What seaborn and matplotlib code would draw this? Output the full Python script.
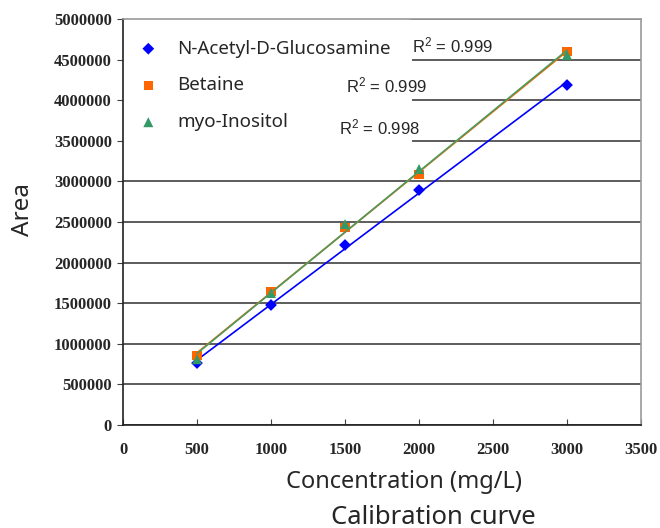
import numpy as np
import pandas as pd
import matplotlib
matplotlib.use("Agg")
import matplotlib.pyplot as plt
import seaborn as sns

conc = [500, 1000, 1500, 2000, 3000]
nag = [763000, 1478000, 2217000, 2894000, 4187000]
betaine = [850000, 1650000, 2438000, 3079000, 4594000]
inositol = [810000, 1626000, 2475000, 3153000, 4557000]
names = ["N-Acetyl-D-Glucosamine", "Betaine", "myo-Inositol"]
r2_labels = ["R$^{2}$ = 0.999", "R$^{2}$ = 0.999", "R$^{2}$ = 0.998"]
xticks = [0, 500, 1000, 1500, 2000, 2500, 3000, 3500]
yticks = list(range(0, 5000001, 500000))

sns.set_style("white")
plt.rcParams['font.family'] = ['Noto Sans', 'DejaVu Sans']
plt.rcParams['mathtext.fontset'] = 'custom'
plt.rcParams['mathtext.rm'] = 'Liberation Sans'
plt.rcParams['mathtext.it'] = 'Liberation Sans:italic'
plt.rcParams['mathtext.bf'] = 'Liberation Sans:bold'

fig = plt.figure(figsize=(6.6, 5.28), dpi=100)
ax = fig.add_axes([123/660, 1-425/528, (641-123)/660, (425-19)/528])

series = [nag, betaine, inositol]
mcolors = ["#0000FF", "#FF6600", "#339966"]
lcolors = ["#0000FF", "#FF6600", "#4C9A5C"]
markers = ["D", "s", "^"]
msizes = [36, 42, 52]

df = pd.DataFrame({"conc": conc * 3,
                   "area": nag + betaine + inositol,
                   "name": sum([[n] * len(conc) for n in names], [])})

for i, (name, vals) in enumerate(zip(names, series)):
    sub = df[df["name"] == name]
    sns.scatterplot(data=sub, x="conc", y="area", marker=markers[i], color=mcolors[i],
                    s=msizes[i], edgecolor="none", ax=ax, label=name, zorder=3)
    k, b = np.polyfit(conc, vals, 1)
    xs = np.array([conc[0], conc[-1]])
    sns.lineplot(x=xs, y=k * xs + b, color=lcolors[i], lw=1.2, ax=ax, zorder=4 if i == 2 else 2)

ax.set_xlim(0, 3500)
ax.set_ylim(0, 5000000)
ax.set_xticks(xticks)
ax.set_yticks(yticks)
ax.set_xticklabels([str(t) for t in xticks])
ax.set_yticklabels([str(t) for t in yticks])
for lab in ax.get_xticklabels() + ax.get_yticklabels():
    lab.set_fontfamily("Liberation Serif")
    lab.set_fontweight("bold")
    lab.set_fontsize(12)
ax.tick_params(axis="x", direction="in", length=4, width=0.8, color="#404040", pad=12, bottom=True)
ax.tick_params(axis="y", direction="out", length=4, width=0.8, color="#404040", pad=4, left=True)

ax.yaxis.grid(True, color="#303030", lw=1.1)
ax.xaxis.grid(False)
ax.set_axisbelow(True)
for s in ["left", "bottom"]:
    ax.spines[s].set_color("#202020")
    ax.spines[s].set_linewidth(1.2)
for s in ["top", "right"]:
    ax.spines[s].set_color("#9a9a9a")
    ax.spines[s].set_linewidth(1.2)

leg = ax.legend(loc="upper left", bbox_to_anchor=(0.0, 1.0), frameon=True, fontsize=13.5,
                handletextpad=1.3, labelspacing=1.0, borderpad=1.1, borderaxespad=0.0,
                handlelength=0.5, markerscale=1.0)
leg.get_frame().set_facecolor("white")
leg.get_frame().set_edgecolor("none")
leg.get_frame().set_alpha(1)
leg.set_zorder(1.5)

r2_pos = [(1950, 4680000), (1507, 4187000), (1459, 3670000)]
for (x, y), t in zip(r2_pos, r2_labels):
    ax.text(x, y, t, fontsize=12, family="Liberation Sans", ha="left", va="center", zorder=6)

ax.set_xlabel("Concentration (mg/L)", fontsize=17)
ax.xaxis.set_label_coords((404-123)/518, -(470-425)/406)
ax.set_ylabel("Area", fontsize=17.5)
ax.yaxis.set_label_coords((35-123)/518, (425-209)/406)
fig.text(433/660, 1-517/528, "Calibration curve", fontsize=18.5, ha="center", va="center")

fig.savefig("out.png", dpi=100)
